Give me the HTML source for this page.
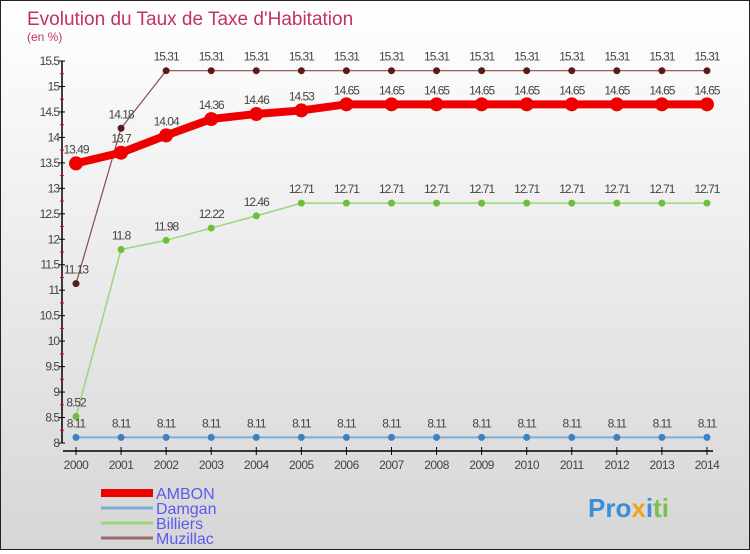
<!DOCTYPE html>
<html><head><meta charset="utf-8"><style>
body{margin:0;width:750px;height:550px;overflow:hidden;font-family:"Liberation Sans",sans-serif}
#c{position:absolute;left:0;top:0;width:748px;height:548px;border:1px solid #222;background:linear-gradient(#ffffff,#d6d6d6)}
</style></head><body>
<div id="c">
<svg id="s" width="748" height="548">
<text x="26" y="24" font-size="19" fill="#c0306a">Evolution du Taux de Taxe d'Habitation</text>
<text x="26" y="40" font-size="12" fill="#c0306a">(en %)</text>
<text x="587" y="516" font-size="26" font-weight="bold" fill="#3a8fd8">Pro<tspan fill="#f0a020">x</tspan><tspan fill="#3a8fd8">i</tspan><tspan fill="#7cc04a">ti</tspan></text>
</svg></div>
<script>
const years=[2000,2001,2002,2003,2004,2005,2006,2007,2008,2009,2010,2011,2012,2013,2014];
const ambon=[13.49,13.7,14.04,14.36,14.46,14.53,14.65,14.65,14.65,14.65,14.65,14.65,14.65,14.65,14.65];
const damgan=[8.11,8.11,8.11,8.11,8.11,8.11,8.11,8.11,8.11,8.11,8.11,8.11,8.11,8.11,8.11];
const billiers=[8.52,11.8,11.98,12.22,12.46,12.71,12.71,12.71,12.71,12.71,12.71,12.71,12.71,12.71,12.71];
const muzillac=[11.13,14.18,15.31,15.31,15.31,15.31,15.31,15.31,15.31,15.31,15.31,15.31,15.31,15.31,15.31];
const yTicks=[8,8.5,9,9.5,10,10.5,11,11.5,12,12.5,13,13.5,14,14.5,15,15.5];
const seriesNames=["AMBON","Damgan","Billiers","Muzillac"];
const s=document.getElementById('s');const NS='http://www.w3.org/2000/svg';
function X(i){return 75+i*45.07;}
function Y(v){return 442-(v-8)*50.93;}
function mk(t,a,name){const e=document.createElementNS(NS,t);for(const k in a)e.setAttribute(k,a[k]);


s.appendChild(e);return e;}
mk('line',{x1:61,y1:60,x2:61,y2:442,stroke:'#000','stroke-width':1.5},'y-axis');
mk('line',{x1:62,y1:450,x2:712,y2:450,stroke:'#000','stroke-width':1.5},'x-axis');
yTicks.forEach(v=>{mk('line',{x1:58,y1:Y(v),x2:64,y2:Y(v),stroke:'#000'},'y-tick');
const t=mk('text',{x:58,y:Y(v)+4,'font-size':12,fill:'#444','text-anchor':'end','letter-spacing':'-1'},'y-tick-label');t.textContent=v;
if(v<15.5)mk('line',{x1:59,y1:Y(v+0.25),x2:63,y2:Y(v+0.25),stroke:'#e00'},'y-minor-tick');});
years.forEach((y,i)=>{mk('line',{x1:X(i),y1:446,x2:X(i),y2:454,stroke:'#000'},'x-tick');
const t=mk('text',{x:X(i),y:468,'font-size':12,fill:'#444','text-anchor':'middle','letter-spacing':'-0.5'},'x-tick-label');t.textContent=y;});
function series(d,col,w,r,dot,name){
mk('polyline',{points:d.map((v,i)=>X(i)+','+Y(v)).join(' '),fill:'none',stroke:col,'stroke-width':w},name+'-line');
d.forEach((v,i)=>{mk('circle',{cx:X(i),cy:Y(v),r:r,fill:dot},name+'-point');
const t=mk('text',{x:X(i),y:Y(v)-10,'font-size':12,fill:'#444','text-anchor':'middle','letter-spacing':'-1'},name+'-value');t.textContent=v;});}
series(muzillac,'#8a4a4a',1.2,3.5,'#5a1a1a','muzillac');
series(billiers,'#9ad67a',1.5,3.5,'#6cc03c','billiers');
series(damgan,'#7aaed8',2,3.5,'#3a82c0','damgan');
series(ambon,'#ee0000',8,7,'#ee0000','ambon');
const lc=['#ee0000','#7aaed8','#9ad67a','#9a6a6a'],lw=[8,3,3,3];
seriesNames.forEach((n,i)=>{const y=492+i*15;
mk('line',{x1:100,y1:y,x2:152,y2:y,stroke:lc[i],'stroke-width':lw[i]},'legend-swatch');
const t=mk('text',{x:155,y:y+6,'font-size':16,fill:'#5a5af0'},'legend-entry');t.textContent=n;});
</script></body></html>
